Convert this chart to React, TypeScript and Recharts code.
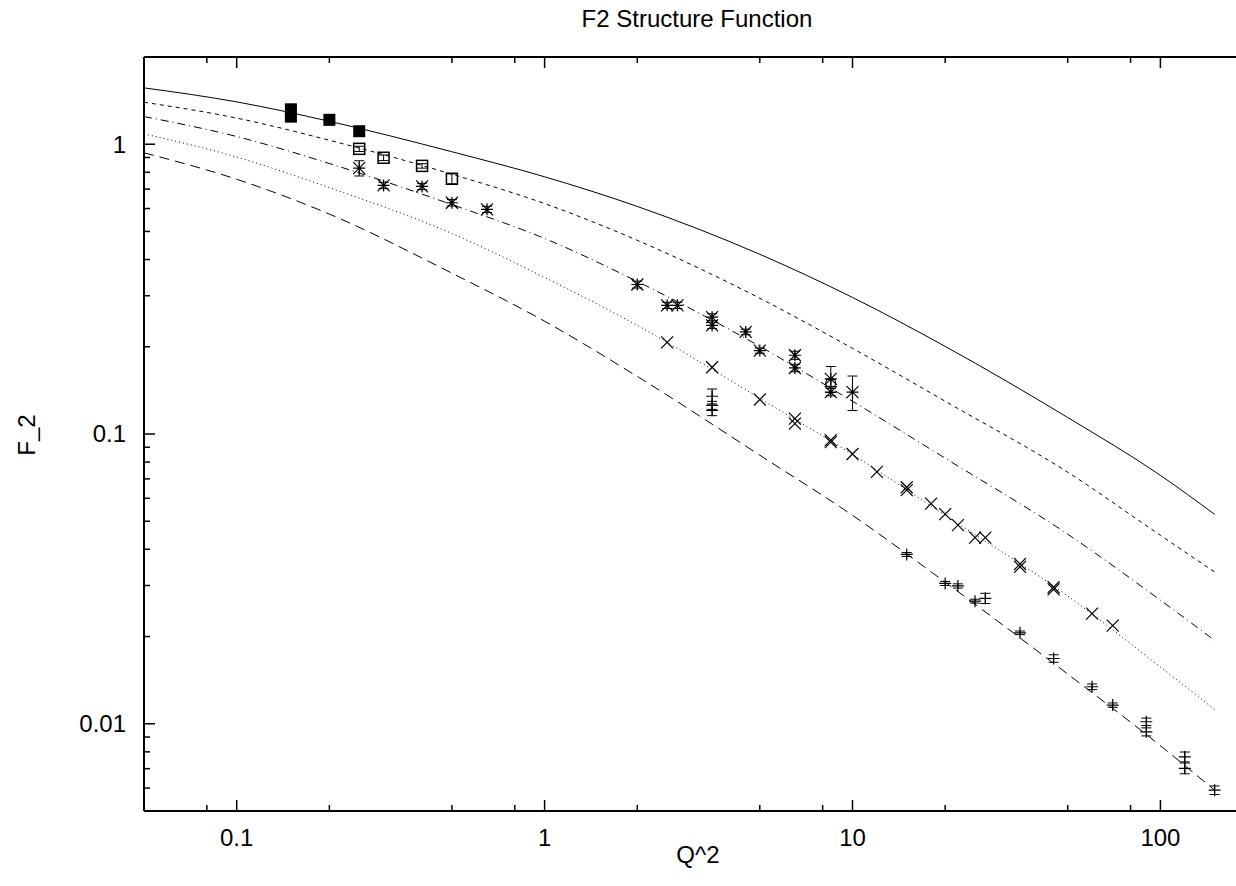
import React from 'react';
import { ComposedChart, Line, Scatter, XAxis, YAxis, ErrorBar } from 'recharts';

// model curves, sampled at these Q^2 values
const curveQ2 = [0.05, 0.1, 0.2, 0.5, 1, 2, 5, 10, 20, 50, 100, 150];
const curveSolid = [1.565, 1.4, 1.2, 0.942, 0.772, 0.61, 0.417, 0.296, 0.2006, 0.114, 0.072, 0.0528];
const curveShortDash = [1.396, 1.231, 1.032, 0.788, 0.624, 0.466, 0.294, 0.1975, 0.1297, 0.0738, 0.0447, 0.0334];
const curveDashDot = [1.246, 1.063, 0.858, 0.619, 0.473, 0.336, 0.2006, 0.1297, 0.0825, 0.0451, 0.0267, 0.0194];
const curveDotted = [1.086, 0.903, 0.708, 0.492, 0.347, 0.237, 0.1328, 0.085, 0.0524, 0.0276, 0.0157, 0.0112];
const curveLongDash = [0.934, 0.757, 0.574, 0.359, 0.245, 0.158, 0.0845, 0.0524, 0.0308, 0.01484, 0.0084, 0.0059];

// measured points
const filledSqQ2 = [0.15, 0.15, 0.2, 0.25];
const filledSqF2 = [1.32, 1.245, 1.214, 1.109];

const openSqQ2 = [0.25, 0.3, 0.4, 0.5];
const openSqF2 = [0.964, 0.898, 0.842, 0.76];
const openSqErr = [0.02, 0.02, 0.015, 0.03];

const starQ2 = [0.25, 0.3, 0.4, 0.5, 0.65, 2, 2.5, 2.7, 3.5, 3.5, 4.5, 5, 6.5, 6.5, 8.5, 8.5, 10];
const starF2 = [0.827, 0.721, 0.715, 0.628, 0.596, 0.328, 0.278, 0.278, 0.253, 0.237, 0.225, 0.194, 0.187, 0.169, 0.155, 0.1395, 0.1395];
const starErr = [0.05, 0.018, 0.018, 0.016, 0.015, 0.009, 0.007, 0.007, 0.007, 0.006, 0.005, 0.004, 0.006, 0.005, 0.016, 0.004, 0.019];

const circleQ2 = [8.5];
const circleF2 = [0.15];
const circleErr = [0.004];

const crossQ2 = [2.5, 3.5, 5, 6.5, 6.5, 8.5, 8.5, 10, 12, 15, 15, 18, 20, 22, 25, 27, 35, 35, 45, 45, 60, 70];
const crossF2 = [0.207, 0.17, 0.1315, 0.113, 0.1086, 0.0938, 0.0952, 0.0853, 0.074, 0.064, 0.0655, 0.0575, 0.0529, 0.0485, 0.0439, 0.0439, 0.0348, 0.0356, 0.0291, 0.0296, 0.024, 0.0218];

const plusQ2 = [3.5, 3.5, 3.5, 15, 20, 22, 25, 27, 35, 45, 60, 70, 90, 90, 120, 120, 150];
const plusF2 = [0.135, 0.1256, 0.1207, 0.0384, 0.0305, 0.0299, 0.0265, 0.0271, 0.0206, 0.0168, 0.01342, 0.0116, 0.01016, 0.00938, 0.00769, 0.00702, 0.0059];
const plusErr = [0.008, 0.004, 0.005, 0.0006, 0.0005, 0.0005, 0.0004, 0.0011, 0.0003, 0.0005, 0.0003, 0.0002, 0.0003, 0.0003, 0.0003, 0.0003, 0.0002];

const xTicks = [0.08, 0.1, 0.2, 0.5, 0.8, 1, 2, 5, 8, 10, 20, 50, 80, 100];
const yTicks = [
  0.006, 0.007, 0.008, 0.009, 0.01,
  0.02, 0.03, 0.04, 0.05, 0.06, 0.07, 0.08, 0.09, 0.1,
  0.2, 0.3, 0.4, 0.5, 0.6, 0.7, 0.8, 0.9, 1,
];

const toPoints = (xs: number[], ys: number[], errs?: number[]) =>
  xs.map((x, i) => ({ x, y: ys[i], err: errs ? errs[i] : 0 }));

const FONT = "'Liberation Sans', Arial, Helvetica, sans-serif";
const FONT_SIZE = 24;

const isMajor = (v: number) => {
  const l = Math.log10(v);
  return Math.abs(l - Math.round(l)) < 1e-6;
};

const BottomTick = (props: any) => {
  const { x, y, payload } = props;
  const major = isMajor(payload.value);
  return (
    <g>
      <line x1={x} x2={x} y1={y} y2={y - (major ? 11 : 6)} stroke='#000' strokeWidth={1.5} />
      {major && (
        <text x={x} y={y + 35} textAnchor='middle' fontSize={FONT_SIZE} fontFamily={FONT} fill='#000'>
          {String(payload.value)}
        </text>
      )}
    </g>
  );
};

const TopTick = (props: any) => {
  const { x, y, payload } = props;
  const major = isMajor(payload.value);
  return <line x1={x} x2={x} y1={y} y2={y + (major ? 11 : 6)} stroke='#000' strokeWidth={1.5} />;
};

const LeftTick = (props: any) => {
  const { x, y, payload } = props;
  const major = isMajor(payload.value);
  return (
    <g>
      <line x1={x} x2={x + (major ? 11 : 6)} y1={y} y2={y} stroke='#000' strokeWidth={1.5} />
      {major && (
        <text x={x - 18} y={y} dy='0.35em' textAnchor='end' fontSize={FONT_SIZE} fontFamily={FONT} fill='#000'>
          {String(payload.value)}
        </text>
      )}
    </g>
  );
};

type Kind = 'filledSquare' | 'openSquare' | 'asterisk' | 'circle' | 'cross' | 'plus';

const marker = (kind: Kind) => (p: any) => {
  const { cx, cy } = p;
  const s = 6;
  const cross = `M${cx - s},${cy - s}L${cx + s},${cy + s}M${cx - s},${cy + s}L${cx + s},${cy - s}`;
  const plus = `M${cx - s},${cy}L${cx + s},${cy}M${cx},${cy - s}L${cx},${cy + s}`;
  switch (kind) {
    case 'filledSquare':
      return <rect x={cx - 6} y={cy - 6} width={12} height={12} fill='#000' />;
    case 'openSquare':
      return <rect x={cx - 5.5} y={cy - 5.5} width={11} height={11} fill='none' stroke='#000' strokeWidth={1.5} />;
    case 'circle':
      return <circle cx={cx} cy={cy} r={5} fill='none' stroke='#000' strokeWidth={1} />;
    case 'cross':
      return <path d={cross} stroke='#000' strokeWidth={1.2} fill='none' />;
    case 'plus':
      return <path d={plus} stroke='#000' strokeWidth={1.2} fill='none' />;
    default:
      return <path d={cross + plus} stroke='#000' strokeWidth={1.2} fill='none' />;
  }
};

const curves = [
  { name: 'solid', values: curveSolid, dash: undefined },
  { name: 'shortDash', values: curveShortDash, dash: '4 4' },
  { name: 'dashDot', values: curveDashDot, dash: '8 4 1 4' },
  { name: 'dotted', values: curveDotted, dash: '1 3' },
  { name: 'longDash', values: curveLongDash, dash: '10 6' },
];

const series: { name: string; kind: Kind; bars: boolean; data: { x: number; y: number; err: number }[] }[] = [
  { name: 'filledSquare', kind: 'filledSquare', bars: false, data: toPoints(filledSqQ2, filledSqF2) },
  { name: 'openSquare', kind: 'openSquare', bars: true, data: toPoints(openSqQ2, openSqF2, openSqErr) },
  { name: 'asterisk', kind: 'asterisk', bars: true, data: toPoints(starQ2, starF2, starErr) },
  { name: 'circle', kind: 'circle', bars: true, data: toPoints(circleQ2, circleF2, circleErr) },
  { name: 'cross', kind: 'cross', bars: false, data: toPoints(crossQ2, crossF2) },
  { name: 'plus', kind: 'plus', bars: true, data: toPoints(plusQ2, plusF2, plusErr) },
];

const App = () => {
  return (
    <div style={{ position: 'absolute', left: 0, top: 0, width: 1236, height: 886, background: '#fff' }}>
      <ComposedChart width={1236} height={886} margin={{ top: 0, right: 0, bottom: 0, left: 0 }}>
        <XAxis
          dataKey='x'
          type='number'
          scale='log'
          domain={[0.05, 176]}
          allowDataOverflow
          ticks={xTicks}
          interval={0}
          tickSize={0}
          tickMargin={0}
          height={75}
          tick={BottomTick}
          axisLine={{ stroke: '#000', strokeWidth: 2 }}
        />
        <XAxis
          xAxisId='top'
          orientation='top'
          dataKey='x'
          type='number'
          scale='log'
          domain={[0.05, 176]}
          allowDataOverflow
          ticks={xTicks}
          interval={0}
          tickSize={0}
          tickMargin={0}
          height={57}
          tick={TopTick}
          axisLine={{ stroke: '#000', strokeWidth: 2 }}
        />
        <YAxis
          dataKey='y'
          type='number'
          scale='log'
          domain={[0.005, 2]}
          allowDataOverflow
          ticks={yTicks}
          interval={0}
          tickSize={0}
          tickMargin={0}
          width={144}
          tick={LeftTick}
          axisLine={{ stroke: '#000', strokeWidth: 2 }}
        />
        {curves.map(c => (
          <Line
            key={c.name}
            data={toPoints(curveQ2, c.values)}
            dataKey='y'
            type='monotone'
            stroke='#000'
            strokeWidth={1}
            strokeDasharray={c.dash}
            dot={false}
            activeDot={false}
            isAnimationActive={false}
          />
        ))}
        {series.map(s => (
          <Scatter
            key={s.name}
            data={s.data}
            dataKey='y'
            shape={marker(s.kind)}
            isAnimationActive={false}
          >
            {s.bars && <ErrorBar dataKey='err' direction='y' width={5} stroke='#000' strokeWidth={1} />}
          </Scatter>
        ))}
      </ComposedChart>
      <svg
        width={1236}
        height={886}
        style={{ position: 'absolute', left: 0, top: 0, pointerEvents: 'none' }}
      >
        <text x={697} y={27} textAnchor='middle' fontSize={FONT_SIZE} fontFamily={FONT} fill='#000'>
          F2 Structure Function
        </text>
        <text x={698} y={863} textAnchor='middle' fontSize={FONT_SIZE} fontFamily={FONT} fill='#000'>
          Q^2
        </text>
        <text
          x={35}
          y={435}
          textAnchor='middle'
          fontSize={FONT_SIZE}
          fontFamily={FONT}
          fill='#000'
          transform='rotate(-90 35 435)'
        >
          F_2
        </text>
      </svg>
    </div>
  );
};

export default App;
